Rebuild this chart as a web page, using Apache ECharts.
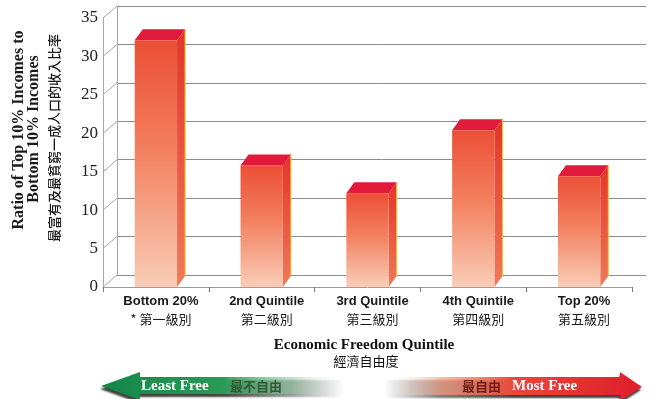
<!DOCTYPE html>
<html>
<head>
<meta charset="utf-8">
<script src="https://cdn.jsdelivr.net/npm/echarts@6/dist/echarts.min.js"></script>
<style>
  html, body { margin: 0; padding: 0; background: #fff; }
  #chart { width: 653px; height: 399px; }
</style>
</head>
<body>
<div id="chart"></div>
<script>
// Ratio of top-10% to bottom-10% incomes, by economic freedom quintile
const categories = ['Bottom 20%', '2nd Quintile', '3rd Quintile', '4th Quintile', 'Top 20%'];
const categoriesZh = ['* 第一級別', '第二級別', '第三級別', '第四級別', '第五級別'];
const ratioValues = [32.1, 15.8, 12.2, 20.4, 14.4];
const yTicks = [0, 5, 10, 15, 20, 25, 30, 35];

// pseudo-3D geometry: depth of the walls and of each column
const WALL_DX = 14, WALL_DY = 12;
const BAR_DX = 8, BAR_DY = 11;
const FRONT = { left: 103, right: 21, top: 18, bottom: 112 };
const BACK = {
  left: FRONT.left + WALL_DX, right: FRONT.right - WALL_DX,
  top: FRONT.top - WALL_DY, bottom: FRONT.bottom + WALL_DY
};

const chart = echarts.init(document.getElementById('chart'), null, { renderer: 'canvas' });
const LG = echarts.graphic.LinearGradient;

const frontFill = new LG(0, 0, 0, 1, [
  { offset: 0, color: '#ec4f36' },
  { offset: 0.45, color: '#f2805f' },
  { offset: 1, color: '#f9cdb7' }
]);
const sideFill = new LG(0, 0, 0, 1, [
  { offset: 0, color: '#e2352a' },
  { offset: 1, color: '#ee7a58' }
]);

function renderColumn(params, api) {
  const i = api.value(0), v = api.value(1);
  const base = api.coord([i, 0]);
  const top = api.coord([i, v]);
  const w = api.size([1, 0])[0] * 0.40;
  const xl = base[0] - w / 2, xr = base[0] + w / 2;
  const yb = base[1], yt = top[1];
  return {
    type: 'group',
    children: [
      { type: 'polygon',
        shape: { points: [[xr, yt], [xr + BAR_DX, yt - BAR_DY], [xr + BAR_DX, yb - BAR_DY], [xr, yb]] },
        style: { fill: sideFill } },
      { type: 'line',
        shape: { x1: xr + BAR_DX, y1: yt - BAR_DY, x2: xr + BAR_DX, y2: yb - BAR_DY },
        style: { stroke: '#f4c21a', lineWidth: 1 } },
      { type: 'polygon',
        shape: { points: [[xl, yt], [xl + BAR_DX, yt - BAR_DY], [xr + BAR_DX, yt - BAR_DY], [xr, yt]] },
        style: { fill: '#e11a3b' } },
      { type: 'rect',
        shape: { x: xl, y: yt, width: w, height: yb - yt },
        style: { fill: frontFill } }
    ]
  };
}

// slanted edges of the left wall joining each front tick to its back gridline
function renderWallEdge(params, api) {
  const y = api.coord([0, api.value(1)])[1];
  const x = params.coordSys.x;
  return {
    type: 'line',
    shape: { x1: x, y1: y, x2: x + WALL_DX, y2: y - WALL_DY },
    style: { stroke: '#a8a8a8', lineWidth: 1 }
  };
}

const greenArrow = new LG(0, 0, 1, 0, [
  { offset: 0, color: '#138648' },
  { offset: 0.5, color: '#2c9a57' },
  { offset: 0.78, color: 'rgba(140,200,160,0.55)' },
  { offset: 1, color: 'rgba(255,255,255,0)' }
]);
const redArrow = new LG(0, 0, 1, 0, [
  { offset: 0, color: 'rgba(255,255,255,0)' },
  { offset: 0.22, color: 'rgba(246,160,130,0.7)' },
  { offset: 0.5, color: '#e9473c' },
  { offset: 1, color: '#df1d2a' }
]);
const arrowShadow = { shadowBlur: 2, shadowOffsetY: 3, shadowOffsetX: -1, shadowColor: 'rgba(0,0,0,0.75)' };

const option = {
  backgroundColor: '#ffffff',
  animation: false,
  grid: [
    { left: FRONT.left, right: FRONT.right, top: FRONT.top, bottom: FRONT.bottom },
    { left: BACK.left, right: BACK.right, top: BACK.top, bottom: BACK.bottom }
  ],
  xAxis: [
    {
      type: 'category', gridIndex: 0, data: categories,
      axisLine: { show: true, lineStyle: { color: '#9a9a9a', width: 1 } },
      axisTick: { show: true, length: 5, lineStyle: { color: '#777' } },
      axisLabel: {
        interval: 0,
        hideOverlap: false,
        margin: 6,
        padding: [0, 0, 0, 10],
        formatter: (val, idx) => '{en|' + val + '}\n{zh|' + categoriesZh[idx] + '}',
        rich: {
          en: { fontFamily: 'Liberation Sans, Arial', fontWeight: 'bold', fontSize: 13, color: '#1a1a1a', lineHeight: 17 },
          zh: { fontFamily: 'Noto Sans CJK TC', fontSize: 13, color: '#1a1a1a', lineHeight: 18 }
        }
      },
      splitLine: { show: false }
    },
    {
      type: 'category', gridIndex: 1, data: categories, show: false
    }
  ],
  yAxis: [
    {
      type: 'value', gridIndex: 0, min: 0, max: 35, interval: 5,
      axisLine: { show: true, lineStyle: { color: '#a8a8a8', width: 1 } },
      axisTick: { show: false },
      splitLine: { show: false },
      axisLabel: {
        margin: 5,
        fontFamily: 'Liberation Serif', fontSize: 17, color: '#222',
        formatter: v => (yTicks.indexOf(v) >= 0 ? String(v) : '')
      }
    },
    {
      type: 'value', gridIndex: 1, min: 0, max: 35, interval: 5,
      axisLine: { show: true, lineStyle: { color: '#a8a8a8', width: 1 } },
      axisTick: { show: false },
      axisLabel: { show: false },
      splitLine: { show: true, lineStyle: { color: '#8c8c8c', width: 1 } }
    }
  ],
  series: [
    {
      type: 'custom', xAxisIndex: 0, yAxisIndex: 0, z: 1,
      renderItem: renderWallEdge,
      encode: { x: 0, y: 1 },
      data: yTicks.map(v => [0, v]),
      silent: true
    },
    {
      type: 'custom', xAxisIndex: 0, yAxisIndex: 0, z: 5,
      renderItem: renderColumn,
      encode: { x: 0, y: 1 },
      data: ratioValues.map((v, i) => [i, v])
    }
  ],
  graphic: [
    { type: 'text', x: 19, y: 130, rotation: Math.PI / 2,
      style: { text: 'Ratio of Top 10% Incomes to', font: 'bold 16px "Liberation Serif"', fill: '#1a1a1a',
               textAlign: 'center', textVerticalAlign: 'middle' } },
    { type: 'text', x: 34, y: 129, rotation: Math.PI / 2,
      style: { text: 'Bottom 10% Incomes', font: 'bold 16px "Liberation Serif"', fill: '#1a1a1a',
               textAlign: 'center', textVerticalAlign: 'middle' } },
    { type: 'text', x: 54, y: 138, rotation: Math.PI / 2,
      style: { text: '最富有及最貧窮一成人口的收入比率', font: '500 13px "Noto Sans CJK TC"', fill: '#1a1a1a',
               textAlign: 'center', textVerticalAlign: 'middle' } },
    { type: 'text', x: 364, y: 345,
      style: { text: 'Economic Freedom Quintile', font: 'bold 15px "Liberation Serif"', fill: '#111',
               textAlign: 'center', textVerticalAlign: 'middle' } },
    { type: 'text', x: 366, y: 361,
      style: { text: '經濟自由度', font: '13px "Noto Sans CJK TC"', fill: '#111',
               textAlign: 'center', textVerticalAlign: 'middle' } },
    { type: 'polygon',
      shape: { points: [[101, 386], [140, 372], [140, 377], [345, 377], [345, 394], [140, 394], [140, 400]] },
      style: Object.assign({ fill: greenArrow }, arrowShadow) },
    { type: 'polygon',
      shape: { points: [[385, 377], [620, 377], [620, 372], [642, 387], [620, 401], [620, 395], [385, 395]] },
      style: Object.assign({ fill: redArrow }, arrowShadow) },
    { type: 'text', x: 141, y: 386,
      style: { text: 'Least Free', font: 'bold 15px "Liberation Serif"', fill: '#ffffff',
               textAlign: 'left', textVerticalAlign: 'middle' } },
    { type: 'text', x: 230, y: 386,
      style: { text: '最不自由', font: 'bold 13px "Noto Sans CJK TC"', fill: '#2f5a33',
               textAlign: 'left', textVerticalAlign: 'middle' } },
    { type: 'text', x: 462, y: 386,
      style: { text: '最自由', font: 'bold 13px "Noto Sans CJK TC"', fill: '#6e1c14',
               textAlign: 'left', textVerticalAlign: 'middle' } },
    { type: 'text', x: 512, y: 386,
      style: { text: 'Most Free', font: 'bold 15px "Liberation Serif"', fill: '#ffffff',
               textAlign: 'left', textVerticalAlign: 'middle' } }
  ]
};

chart.setOption(option);
</script>
</body>
</html>
